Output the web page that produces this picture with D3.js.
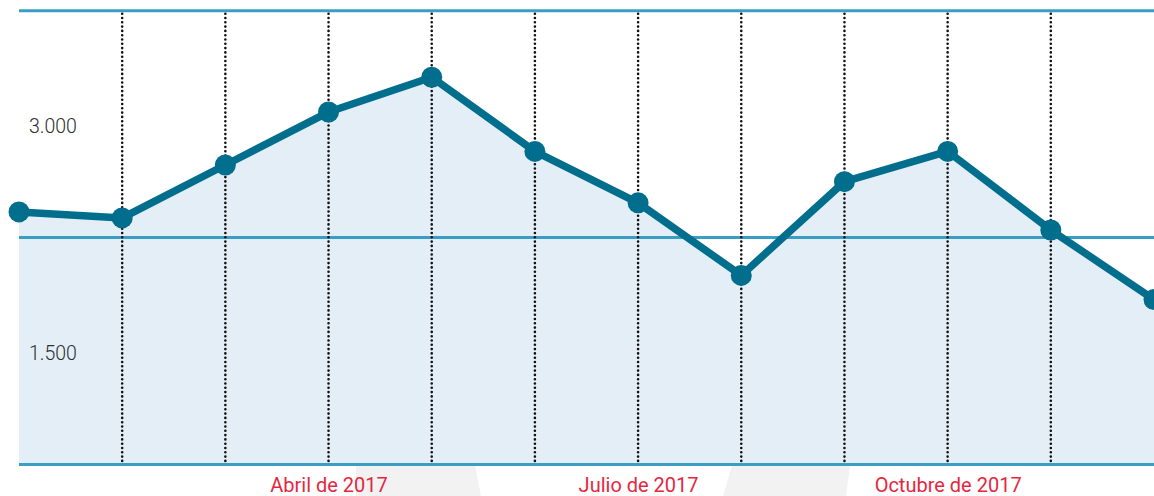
<!DOCTYPE html>
<html>
<head>
<meta charset="utf-8">
<script src="https://cdn.jsdelivr.net/npm/d3@7"></script>
<style>
  body { margin: 0; background: #fff; }
  svg { display: block; }
  .ylab text { font-family: Roboto, "Noto Sans", sans-serif; font-weight: 300; font-size: 19.5px; fill: #2e2e2e; }
  .xlab text { font-family: Roboto, "Noto Sans", sans-serif; font-weight: 400; font-size: 20px; fill: #e4273f; }
</style>
</head>
<body>
<div id="chart"></div>
<script>
// months of 2017, one point each
var months = ["Enero de 2017", "Febrero de 2017", "Marzo de 2017", "Abril de 2017",
  "Mayo de 2017", "Junio de 2017", "Julio de 2017", "Agosto de 2017",
  "Septiembre de 2017", "Octubre de 2017", "Noviembre de 2017", "Diciembre de 2017"];
var values = [2420, 2380, 2730, 3080, 3310, 2820, 2480, 2000, 2620, 2820, 2300, 1840];
var xTickLabels = ["Abril de 2017", "Julio de 2017", "Octubre de 2017"];
var yTickValues = [1500, 3000];
var gridValues = [750, 2250, 3750];

var width = 1154, height = 496;

var svg = d3.select("#chart").append("svg")
  .attr("width", width)
  .attr("height", height);

var x = d3.scalePoint()
  .domain(months)
  .range([19, 1154]);

var y = d3.scaleLinear()
  .domain([750, 3750])
  .range([464.5, 10.7]);

var es = d3.formatLocale({ decimal: ",", thousands: ".", grouping: [3], currency: ["", " €"] });
var fmt = es.format(",");

// faint watermark shapes at the bottom
svg.append("path")
  .attr("d", "M356,466 L475,466 Q478,480 481,496 L356,496 Z")
  .attr("fill", "#f2f2f2");
svg.append("path")
  .attr("d", "M732,466 L850,466 L846,496 L723,496 Z")
  .attr("fill", "#f2f2f2");

// area under the line
var area = d3.area()
  .x(function(d, i) { return x(months[i]); })
  .y0(y(750))
  .y1(function(d) { return y(d); });

svg.append("path")
  .datum(values)
  .attr("d", area)
  .attr("fill", "#e3eef6");

// horizontal grid lines
svg.append("g")
  .selectAll("line")
  .data(gridValues)
  .join("line")
  .attr("x1", x(months[0]))
  .attr("x2", width)
  .attr("y1", function(d) { return y(d); })
  .attr("y2", function(d) { return y(d); })
  .attr("stroke", "#3a9ec4")
  .attr("stroke-width", 3);

// dotted month lines
svg.append("g")
  .selectAll("line")
  .data(months.slice(1, months.length - 1))
  .join("line")
  .attr("x1", function(d) { return x(d); })
  .attr("x2", function(d) { return x(d); })
  .attr("y1", y(3750) + 3)
  .attr("y2", y(750))
  .attr("stroke", "#111")
  .attr("stroke-width", 2.6)
  .attr("stroke-linecap", "round")
  .attr("stroke-dasharray", "0,4.3");

// y labels
var yAxis = d3.axisRight(y)
  .tickValues(yTickValues)
  .tickSize(0)
  .tickPadding(0)
  .tickFormat(fmt);

svg.append("g")
  .attr("class", "ylab")
  .attr("transform", "translate(29,2)")
  .call(yAxis)
  .call(function(g) { g.select(".domain").remove(); });

// x labels
var xAxis = d3.axisBottom(x)
  .tickValues(xTickLabels)
  .tickSize(0)
  .tickPadding(13);

svg.append("g")
  .attr("class", "xlab")
  .attr("transform", "translate(0," + y(750) + ")")
  .call(xAxis)
  .call(function(g) { g.select(".domain").remove(); });

// the line
var line = d3.line()
  .x(function(d, i) { return x(months[i]); })
  .y(function(d) { return y(d); });

svg.append("path")
  .datum(values)
  .attr("d", line)
  .attr("fill", "none")
  .attr("stroke", "#006e8c")
  .attr("stroke-width", 7.5)
  .attr("stroke-linejoin", "round");

svg.append("g")
  .selectAll("circle")
  .data(values)
  .join("circle")
  .attr("cx", function(d, i) { return x(months[i]); })
  .attr("cy", function(d) { return y(d); })
  .attr("r", 10.5)
  .attr("fill", "#006e8c");
</script>
</body>
</html>
